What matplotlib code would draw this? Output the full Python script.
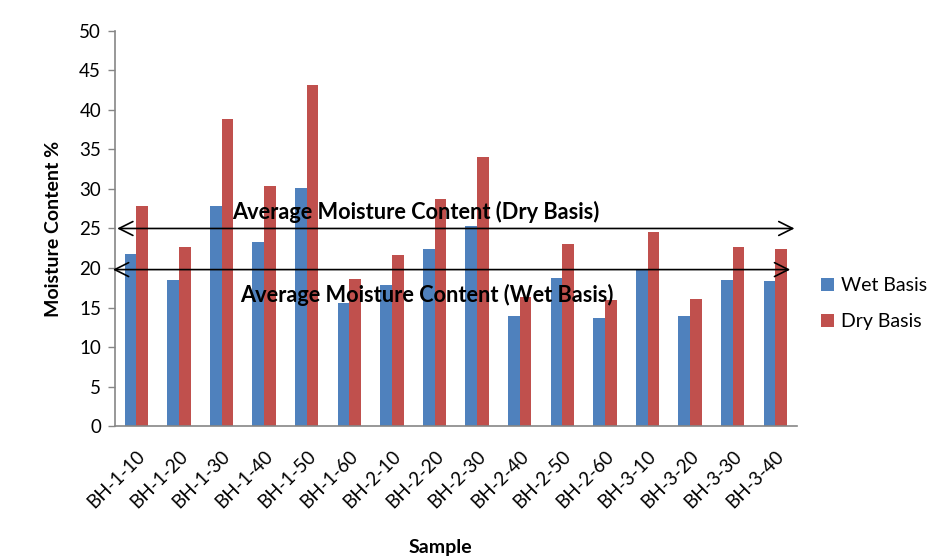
import numpy as np
import matplotlib.pyplot as plt

plt.rcParams['font.family'] = ['Lato', 'DejaVu Sans']

samples = ['BH-1-10', 'BH-1-20', 'BH-1-30', 'BH-1-40', 'BH-1-50', 'BH-1-60',
           'BH-2-10', 'BH-2-20', 'BH-2-30', 'BH-2-40', 'BH-2-50', 'BH-2-60',
           'BH-3-10', 'BH-3-20', 'BH-3-30', 'BH-3-40']
wet_basis = [21.8, 18.5, 27.9, 23.3, 30.1, 15.6, 17.9, 22.4,
             25.3, 13.9, 18.8, 13.7, 19.9, 13.9, 18.5, 18.3]
dry_basis = [27.9, 22.7, 38.9, 30.4, 43.2, 18.6, 21.7, 28.7,
             34.0, 16.3, 23.1, 15.9, 24.6, 16.1, 22.7, 22.4]
avg_dry = 25.0
avg_wet = 19.8

blue = '#4F81BD'
red = '#C0504D'
grey = '#868686'

fig = plt.figure(figsize=(9.35, 5.6), dpi=100)
ax = fig.add_axes([0.123, 0.239, 0.729, 0.706])

x = np.arange(len(samples))
w = 0.275
ax.bar(x - w / 2, wet_basis, w, color=blue, label='Wet Basis')
ax.bar(x + w / 2, dry_basis, w, color=red, label='Dry Basis')

ax.set_xlim(-0.5, len(samples) - 0.5)
ax.set_ylim(0, 50)
ax.set_yticks(np.arange(0, 51, 5))
ax.set_xticks(x)
ax.set_xticklabels(samples, rotation=45, ha='right', rotation_mode='anchor', fontsize=13.5)
ax.tick_params(axis='y', labelsize=13.5, color=grey, length=5, width=1, pad=5)
ax.tick_params(axis='x', length=0, pad=15)

for side in ['top', 'right']:
    ax.spines[side].set_visible(False)
for side in ['left', 'bottom']:
    ax.spines[side].set_color(grey)
    ax.spines[side].set_linewidth(1.2)

# double-headed arrows marking the averages
ax.annotate('', xy=(15.45, avg_dry), xytext=(-0.45, avg_dry),
            arrowprops=dict(arrowstyle='<->', color='black', lw=1.2,
                            mutation_scale=25, shrinkA=0, shrinkB=0))
ax.annotate('', xy=(15.35, avg_wet), xytext=(-0.55, avg_wet),
            arrowprops=dict(arrowstyle='<->', color='black', lw=1.2,
                            mutation_scale=25, shrinkA=0, shrinkB=0),
            annotation_clip=False)
ax.text(6.55, avg_dry + 2.1, 'Average Moisture Content (Dry Basis)',
        ha='center', va='center', fontsize=15.7, fontweight='bold')
ax.text(6.83, avg_wet - 3.2, 'Average Moisture Content (Wet Basis)',
        ha='center', va='center', fontsize=15.7, fontweight='bold')

ax.set_ylabel('Moisture Content %', fontsize=14, fontweight='bold', labelpad=12)
fig.text(0.471, 0.022, 'Sample', ha='center', va='center', fontsize=14, fontweight='bold')

ax.legend(loc='center left', bbox_to_anchor=(1.01, 0.31), frameon=False,
          fontsize=14, handlelength=0.65, handleheight=0.65, handletextpad=0.4,
          labelspacing=1.0)

fig.savefig('out.png', dpi=100)
